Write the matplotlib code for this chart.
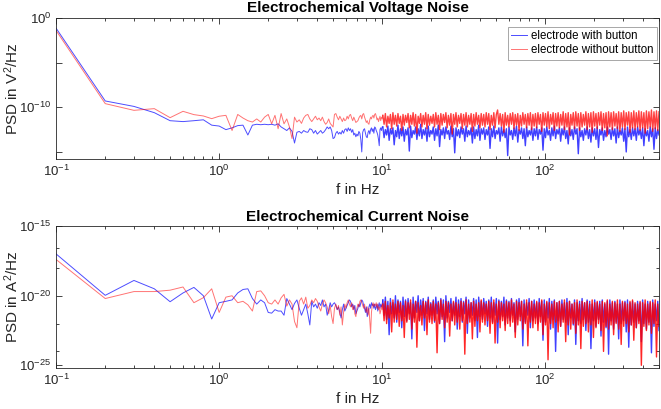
import numpy as np
import matplotlib
matplotlib.use("Agg")
import matplotlib.pyplot as plt
from matplotlib.ticker import NullFormatter, FixedLocator, NullLocator

plt.rcParams["font.family"] = ["Liberation Sans", "DejaVu Sans"]
plt.rcParams["mathtext.fontset"] = "custom"
plt.rcParams["mathtext.rm"] = "Liberation Sans"
plt.rcParams["mathtext.it"] = "Liberation Sans"

# PSD values, stored as log10 exponents
# low part: 0.1 Hz steps from 0.1 to 10 Hz
f_low = np.arange(1, 101) / 10

volt_with_low = [
    -1.16, -9.29, -9.9, -10.6, -11.5, -11.6, -11.5, -11.4, -12.0, -12.1,
    -12.5, -12.3, -12.05, -12.0, -13.1, -12.0, -11.9, -11.95, -11.9, -11.95,
    -11.9, -12.0, -11.85, -12.2, -12.4, -12.6, -12.3, -12.7, -14.0, -12.8,
    -12.7, -12.9, -12.6, -12.75, -12.8, -12.4, -12.5, -12.9, -12.6, -13.0,
    -12.8, -12.6, -12.9, -12.75, -12.5, -12.2, -12.4, -12.2, -12.6, -13.5,
    -13.4, -12.9, -12.7, -13.0, -12.8, -13.0, -12.6, -12.9, -12.5, -12.4,
    -12.7, -12.3, -12.6, -12.4, -12.8, -12.5, -13.1, -12.9, -13.3, -13.0,
    -13.2, -12.7, -12.9, -13.6, -15.0, -12.8, -12.5, -12.4, -12.9, -13.3,
    -13.4, -12.8, -12.6, -13.0, -12.5, -12.3, -12.7, -12.4, -12.9, -12.2,
    -12.3, -12.6, -12.8, -13.1, -13.6, -14.3, -12.5, -12.3, -12.6, -12.2,
]
volt_without_low = [
    -1.42, -9.59, -10.34, -10.15, -11.16, -10.45, -10.82, -10.97, -11.27, -11.0,
    -10.9, -12.6, -10.8, -11.2, -11.5, -11.65, -11.3, -11.65, -11.1, -10.8,
    -11.85, -10.9, -12.4, -10.7, -11.85, -11.3, -12.2, -13.5, -11.1, -11.65,
    -11.4, -11.8, -11.2, -10.9, -10.8, -11.3, -11.6, -11.3, -11.0, -11.4,
    -11.2, -11.5, -11.1, -11.6, -11.9, -11.7, -11.3, -11.8, -12.0, -12.2,
    -10.8, -10.7, -11.1, -11.4, -11.0, -11.3, -11.6, -11.2, -11.5, -11.4,
    -11.0, -11.3, -10.9, -10.8, -11.2, -11.5, -11.1, -11.4, -11.7, -11.6,
    -11.5, -11.2, -11.0, -10.9, -11.3, -10.8, -10.7, -11.1, -11.4, -11.7,
    -11.5, -11.8, -11.9, -11.4, -11.1, -11.3, -11.0, -10.9, -11.2, -10.8,
    -10.7, -11.0, -11.4, -11.2, -11.6, -11.3, -11.0, -11.5, -11.1, -11.3,
]
curr_with_low = [
    -17.0, -19.97, -18.9, -19.5, -20.43, -19.8, -19.4, -20.0, -21.67, -20.5,
    -20.4, -20.3, -19.8, -19.55, -19.5, -20.2, -20.6, -20.3, -20.5, -21.2,
    -21.25, -21.0, -21.1, -21.1, -21.4, -20.2, -20.6, -21.0, -20.55, -20.3,
    -20.9, -21.4, -21.0, -20.6, -21.3, -22.1, -20.4, -20.8, -20.6, -20.9,
    -20.5, -20.7, -20.3, -20.8, -20.6, -21.4, -21.0, -20.5, -20.8, -20.6,
    -20.5, -20.7, -21.0, -20.8, -21.2, -21.6, -21.0, -20.6, -21.1, -20.9,
    -20.7, -20.5, -20.3, -20.4, -20.8, -20.6, -21.0, -20.7, -21.3, -21.1,
    -20.9, -20.6, -20.8, -20.5, -20.3, -20.4, -20.7, -20.9, -21.2, -20.8,
    -21.5, -21.2, -20.8, -20.6, -20.9, -20.5, -20.7, -20.6, -20.9, -20.6,
    -21.0, -20.8, -20.6, -21.1, -20.7, -20.5, -20.9, -20.6, -20.8, -20.6,
]
curr_without_low = [
    -17.4, -20.2, -19.7, -19.7, -19.6, -19.37, -20.5, -20.14, -19.5, -21.2,
    -20.1, -20.0, -20.5, -20.4, -20.65, -21.1, -19.7, -19.65, -20.0, -20.5,
    -20.6, -20.3, -20.6, -20.15, -19.9, -20.75, -20.3, -20.6, -21.85, -22.3,
    -20.4, -20.15, -20.6, -20.1, -20.9, -20.7, -20.3, -20.5, -20.2, -20.4,
    -20.8, -21.1, -20.6, -20.3, -20.5, -20.8, -21.3, -20.7, -21.5, -22.0,
    -20.9, -20.6, -21.0, -20.7, -21.4, -20.8, -22.1, -21.2, -20.6, -20.9,
    -20.5, -20.3, -20.6, -20.8, -20.5, -21.0, -20.7, -21.3, -21.5, -20.9,
    -20.6, -20.8, -20.4, -20.3, -20.5, -20.7, -20.9, -20.6, -21.0, -21.2,
    -20.8, -21.4, -20.9, -21.8, -22.7, -21.2, -20.7, -20.5, -20.8, -20.6,
    -20.7, -20.5, -20.9, -20.6, -21.0, -20.8, -21.3, -21.1, -20.7, -21.0,
]

# high part: 10 to 500 Hz, read on a log-spaced grid
volt_with_high = [
    -12.2, -13.4, -12.5, -13.1, -12.1, -13.7, -12.4, -13.0, -12.3, -14.2, -12.6, -13.3, -12.0, -13.5, -12.4, -13.2, -12.2, -13.8, -12.5, -13.1,
    -12.3, -14.9, -12.1, -13.4, -12.6, -13.0, -12.2, -13.6, -12.4, -13.2, -11.9, -13.5, -12.5, -13.1, -12.3, -13.8, -12.1, -13.3, -12.6, -13.0,
    -12.2, -13.7, -12.4, -13.2, -12.0, -14.4, -12.5, -13.1, -12.3, -13.5, -12.2, -13.0, -12.6, -13.6, -12.1, -13.3, -12.4, -15.1, -12.3, -13.2,
    -12.5, -13.4, -12.2, -13.0, -12.4, -13.8, -12.1, -13.3, -12.6, -13.1, -12.3, -14.0, -12.2, -13.5, -12.5, -13.2, -12.0, -13.7, -12.4, -13.0,
    -12.3, -13.6, -12.5, -13.1, -12.2, -14.6, -12.4, -13.3, -12.1, -13.5, -12.6, -13.0, -12.3, -13.8, -12.2, -13.2, -12.5, -13.4, -12.4, -15.4,
    -12.2, -13.1, -12.6, -13.6, -12.3, -13.2, -12.1, -13.9, -12.5, -13.0, -12.3, -13.5, -12.4, -14.3, -12.2, -13.3, -12.6, -13.1, -12.3, -13.7,
    -12.4, -13.2, -12.2, -13.6, -12.5, -13.0, -12.3, -14.8, -12.4, -13.4, -12.2, -13.1, -12.6, -13.7, -12.3, -13.2, -12.1, -13.5, -12.5, -13.0,
    -12.3, -13.8, -12.4, -13.1, -12.2, -13.5, -12.6, -14.1, -12.3, -13.2, -12.5, -13.6, -12.2, -13.0, -12.4, -15.2, -12.3, -13.3, -12.6, -13.7,
    -12.4, -13.1, -12.2, -13.5, -12.5, -13.9, -12.3, -13.2, -12.4, -13.6, -12.2, -14.5, -12.5, -13.1, -12.3, -13.7, -12.6, -13.3, -12.2, -13.0,
    -12.5, -13.6, -12.3, -13.2, -12.4, -14.0, -12.2, -13.4, -12.6, -13.1, -12.3, -13.8, -12.4, -15.0, -12.2, -13.3, -12.5, -13.6, -12.3, -13.2,
    -12.4, -13.7, -12.2, -13.1, -12.5, -13.5, -12.3, -14.3, -12.4, -13.2, -12.6, -13.8, -12.2, -13.3, -12.4, -14.7, -12.3, -13.5, -12.5, -13.1,
]
volt_without_high = [
    -10.9, -11.9, -10.7, -12.2, -11.0, -11.8, -10.8, -12.4, -10.6, -11.9, -10.9, -12.1, -10.7, -11.8, -11.0, -12.6, -10.8, -12.0, -10.9, -11.7,
    -10.7, -12.3, -10.9, -11.9, -10.6, -12.1, -10.8, -12.9, -11.0, -11.8, -10.7, -12.2, -10.9, -11.9, -10.6, -12.4, -10.8, -12.0, -11.0, -11.8,
    -10.8, -12.2, -10.6, -11.9, -10.9, -12.5, -10.7, -12.0, -10.8, -11.7, -10.6, -12.3, -10.9, -12.0, -10.7, -13.0, -10.8, -11.9, -10.6, -12.2,
    -10.9, -11.8, -10.7, -12.4, -10.8, -12.0, -10.6, -12.2, -10.9, -11.9, -10.7, -12.7, -10.8, -12.1, -10.6, -11.9, -10.9, -12.3, -10.7, -12.0,
    -10.8, -12.2, -10.6, -11.9, -10.7, -12.5, -10.9, -12.0, -10.6, -12.3, -10.8, -10.3, -11.9, -10.7, -12.1, -10.8, -12.8, -10.6, -12.0, -10.9,
    -12.2, -10.7, -11.9, -10.6, -12.4, -10.8, -12.0, -10.7, -12.6, -10.9, -12.1, -10.6, -11.9, -10.8, -12.3, -10.7, -12.0, -10.6, -12.5, -10.8,
    -12.1, -10.7, -12.3, -10.6, -11.9, -10.8, -12.7, -10.6, -12.0, -10.7, -12.2, -10.5, -12.4, -10.8, -11.9, -10.6, -12.6, -10.7, -12.1, -10.6,
    -12.3, -10.8, -12.0, -10.5, -12.5, -10.7, -12.2, -10.6, -13.1, -10.8, -12.0, -10.6, -12.4, -10.5, -12.1, -10.7, -12.6, -10.6, -12.2, -10.8,
    -12.0, -10.5, -12.5, -10.7, -12.2, -10.6, -12.8, -10.5, -12.1, -10.7, -12.4, -10.6, -12.0, -10.5, -12.6, -10.7, -12.3, -10.6, -13.2, -10.5,
    -12.2, -10.6, -12.5, -10.5, -12.1, -10.7, -12.4, -10.5, -12.7, -10.6, -12.2, -10.4, -12.5, -10.6, -12.0, -10.5, -12.8, -10.6, -12.3, -10.4,
    -12.5, -10.6, -12.2, -10.4, -12.6, -10.5, -12.3, -10.6, -12.9, -10.4, -12.4, -10.5, -12.2, -10.3, -12.7, -10.5, -12.4, -10.4, -12.6, -10.5,
]
curr_with_high = [
    -20.3, -21.4, -20.1, -21.7, -20.4, -22.8, -20.2, -21.3, -20.5, -21.6, -20.0, -21.9, -20.3, -21.2, -20.4, -22.3, -20.1, -21.5, -20.3, -21.8,
    -20.2, -21.3, -20.5, -23.1, -20.1, -21.6, -20.4, -21.2, -20.0, -21.8, -20.3, -21.4, -20.2, -22.5, -20.4, -21.3, -20.1, -21.7, -20.5, -21.4,
    -20.3, -21.9, -20.1, -21.3, -20.4, -22.0, -20.2, -21.5, -20.3, -23.3, -20.0, -21.6, -20.4, -21.2, -20.2, -21.8, -20.5, -21.4, -20.1, -22.4,
    -20.3, -21.5, -20.2, -21.9, -20.4, -21.3, -20.1, -22.7, -20.3, -21.6, -20.5, -21.4, -20.2, -21.8, -20.3, -23.0, -20.1, -21.5, -20.4, -21.7,
    -20.2, -21.3, -20.4, -22.2, -20.3, -21.6, -20.1, -21.9, -20.5, -21.4, -20.2, -23.4, -20.3, -21.7, -20.4, -21.5, -20.1, -22.1, -20.3, -21.6,
    -20.4, -21.8, -20.2, -21.4, -20.5, -22.6, -20.3, -21.7, -20.2, -21.5, -20.4, -23.6, -20.3, -21.9, -20.5, -21.4, -20.2, -22.3, -20.4, -21.8,
    -20.3, -21.6, -20.5, -22.0, -20.2, -21.5, -20.4, -23.2, -20.3, -21.9, -20.5, -21.6, -20.2, -22.4, -20.4, -21.7, -20.3, -24.0, -20.5, -21.8,
    -20.4, -22.2, -20.3, -21.7, -20.5, -21.9, -20.2, -22.8, -20.4, -21.6, -20.6, -22.1, -20.3, -23.5, -20.5, -21.8, -20.4, -22.0, -20.2, -21.7,
    -20.5, -22.5, -20.3, -21.9, -20.4, -23.8, -20.6, -21.8, -20.3, -22.2, -20.5, -21.7, -20.4, -22.9, -20.3, -21.9, -20.6, -22.3, -20.4, -24.2,
    -20.3, -21.8, -20.5, -22.4, -20.4, -21.9, -20.6, -23.1, -20.3, -22.0, -20.5, -21.8, -20.4, -22.6, -20.3, -23.7, -20.5, -22.1, -20.4, -21.9,
    -20.6, -22.3, -20.4, -21.8, -20.5, -23.3, -20.3, -22.0, -20.6, -22.4, -20.4, -21.9, -20.5, -24.1, -20.3, -22.2, -20.6, -21.8, -20.4, -22.5,
]
curr_without_high = [
    -20.6, -21.8, -20.4, -22.0, -20.7, -21.6, -20.5, -22.6, -20.3, -21.9, -20.6, -21.7, -20.4, -22.2, -20.5, -21.8, -20.7, -23.0, -20.4, -21.9,
    -20.5, -21.7, -20.3, -22.4, -20.6, -21.9, -20.4, -23.7, -20.5, -21.8, -20.7, -22.1, -20.4, -21.6, -20.5, -22.8, -20.3, -21.9, -20.6, -22.0,
    -20.4, -21.8, -20.6, -24.1, -20.5, -22.0, -20.3, -21.7, -20.6, -22.3, -20.4, -21.9, -20.5, -22.9, -20.6, -21.8, -20.4, -22.1, -20.5, -21.9,
    -20.6, -22.4, -20.4, -21.8, -20.5, -24.2, -20.3, -22.0, -20.6, -21.9, -20.5, -23.1, -20.4, -22.2, -20.6, -21.8, -20.5, -22.6, -20.3, -21.9,
    -20.5, -22.1, -20.6, -21.8, -20.4, -22.7, -20.5, -22.0, -20.3, -23.4, -20.6, -21.9, -20.4, -22.3, -20.5, -21.8, -20.6, -22.5, -20.4, -22.0,
    -20.5, -22.2, -20.3, -21.9, -20.6, -23.0, -20.4, -22.1, -20.5, -21.8, -20.4, -22.4, -20.6, -22.0, -20.3, -23.6, -20.5, -21.9, -20.4, -22.3,
    -20.6, -22.0, -20.4, -22.5, -20.5, -21.9, -20.3, -22.8, -20.6, -22.1, -20.4, -24.6, -20.5, -22.0, -20.6, -22.3, -20.4, -21.9, -20.5, -22.6,
    -20.4, -22.2, -20.6, -21.9, -20.3, -23.3, -20.5, -22.1, -20.4, -22.4, -20.6, -22.0, -20.5, -22.7, -20.3, -22.1, -20.6, -23.8, -20.4, -22.2,
    -20.5, -22.0, -20.4, -22.6, -20.6, -22.1, -20.3, -23.0, -20.5, -22.3, -20.4, -22.0, -20.6, -22.5, -20.4, -24.0, -20.5, -22.2, -20.3, -22.4,
    -20.6, -22.1, -20.4, -22.8, -20.5, -22.0, -20.3, -22.4, -20.6, -23.5, -20.4, -22.2, -20.5, -22.0, -20.6, -22.6, -20.4, -22.1, -20.3, -23.2,
    -20.5, -22.3, -20.6, -22.0, -20.4, -25.0, -20.5, -22.2, -20.3, -22.5, -20.6, -22.1, -20.4, -22.7, -20.5, -22.0, -20.3, -24.4, -20.6, -22.2,
]

labels = ["electrode with button", "electrode without button"]
blue, red = "#0000ff", "#ff0000"


def draw(ax, low, high, color, a_low, a_high, label=None):
    f_high = np.geomspace(10.1, 500, len(high))
    f_all = np.concatenate([f_low, f_high])
    p_all = 10.0 ** np.array(low + high)
    n = len(low)
    # sparse part drawn thin, dense part slightly heavier so it fills like the original
    ax.plot(f_all[:n + 1], p_all[:n + 1], color=color, lw=0.7, alpha=a_low, label=label)
    ax.plot(f_all[n:], p_all[n:], color=color, lw=1.0, alpha=a_high)


fig = plt.figure(figsize=(6.61, 4.09), dpi=100)
ax1 = fig.add_axes([0.085, 0.611, 0.912, 0.345])
ax2 = fig.add_axes([0.085, 0.100, 0.912, 0.347])

dark = "#262626"
for ax in (ax1, ax2):
    ax.set_xscale("log")
    ax.set_yscale("log")
    ax.set_xlim(0.1, 500)
    ax.tick_params(which="both", direction="in", top=True, right=True,
                   colors=dark, labelsize=9.5, width=0.6)
    ax.tick_params(which="major", length=4)
    ax.tick_params(which="minor", length=2.5)
    for s in ax.spines.values():
        s.set_color(dark)
        s.set_linewidth(0.6)
    ax.set_xticks([0.1, 1, 10, 100])
    ax.set_xticklabels([r"$10^{-1}$", r"$10^{0}$", r"$10^{1}$", r"$10^{2}$"])
    ax.set_xlabel("f in Hz", fontsize=11, color=dark, labelpad=3)

# voltage noise
draw(ax1, volt_with_low, volt_with_high, blue, 0.7, 0.75, labels[0])
draw(ax1, volt_without_low, volt_without_high, red, 0.55, 0.75, labels[1])
ax1.set_ylim(10 ** -15.8, 1)
ax1.set_yticks([1e-15, 1e-10, 1e-5, 1e0])
ax1.set_yticklabels(["", r"$10^{-10}$", "", r"$10^{0}$"])
ax1.yaxis.set_minor_locator(NullLocator())
ax1.set_ylabel(r"PSD in V$^2$/Hz", fontsize=11, color=dark)
ax1.set_title("Electrochemical Voltage Noise", fontsize=11, fontweight="bold", pad=4)
leg = ax1.legend(loc="upper right", bbox_to_anchor=(0.997, 0.936), fontsize=8.3,
                 handlelength=1.4, handletextpad=0.35, borderaxespad=0,
                 fancybox=False, framealpha=1, borderpad=0.3, labelspacing=0.15)
leg.get_frame().set_edgecolor("#999999")
leg.get_frame().set_linewidth(0.6)

# current noise
draw(ax2, curr_with_low, curr_with_high, blue, 0.7, 0.75)
draw(ax2, curr_without_low, curr_without_high, red, 0.55, 0.85)
ax2.set_ylim(10 ** -25.2, 1e-15)
ax2.set_yticks([1e-25, 1e-20, 1e-15])
ax2.set_yticklabels([r"$10^{-25}$", r"$10^{-20}$", r"$10^{-15}$"])
ax2.yaxis.set_minor_locator(FixedLocator([10 ** -16.6, 1e-18, 1e-22, 1e-24]))
ax2.yaxis.set_minor_formatter(NullFormatter())
ax2.set_ylabel(r"PSD in A$^2$/Hz", fontsize=11, color=dark)
ax2.set_title("Electrochemical Current Noise", fontsize=11, fontweight="bold", pad=4)

for ax in (ax1, ax2):
    ax.yaxis.set_label_coords(-0.058, 0.5)

fig.savefig("out.png", dpi=100)
